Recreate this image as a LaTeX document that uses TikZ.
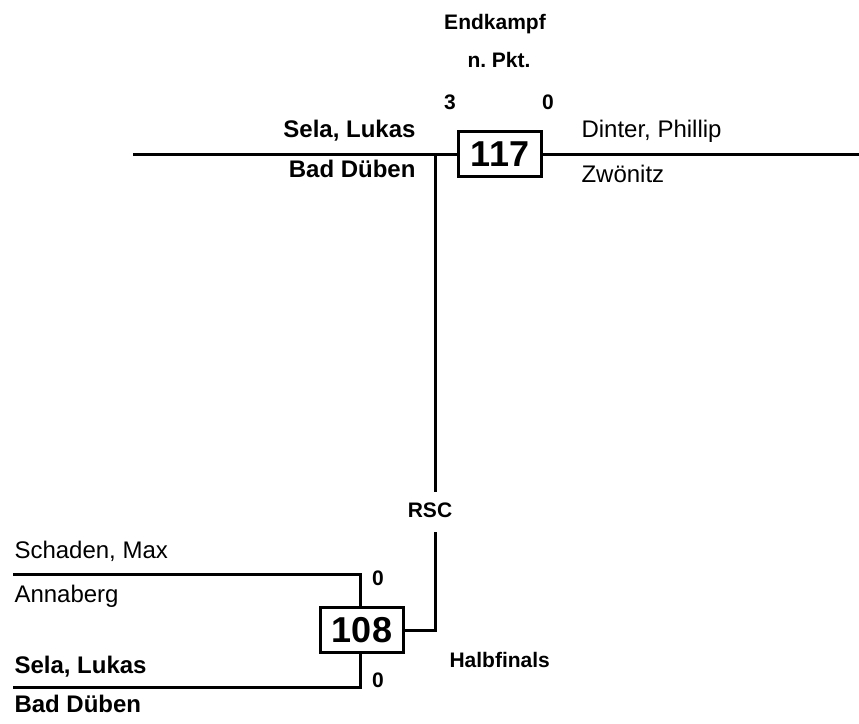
\documentclass[tikz,border=0pt]{standalone}
\usepackage{fontspec}
\setmainfont{Liberation Sans}
\usetikzlibrary{
    arrows.meta,
    shapes,
    positioning,
    calc
}

\begin{document}
\begin{tikzpicture}[x=1pt, y=-1pt, line width=3pt,
                player-text/.style={inner sep=0pt, font=\fontsize{24}{28}\selectfont},
                winner-text/.style={inner sep=0pt, font=\fontsize{24}{28}\selectfont\bfseries},
                info-text/.style={inner sep=0pt, font=\fontsize{21}{25}\selectfont\bfseries},
                match-node/.style={rectangle, draw=black, line width=3pt, inner sep=0pt, minimum width=83pt, minimum height=45pt, font=\fontsize{36}{40}\selectfont\bfseries}]
                \useasboundingbox (0,0) rectangle (859,723);
                % Endkampf
                \node[info-text, anchor=base] (final) at (495,29) {Endkampf};
                \node[info-text, anchor=base] (mode) at (499,67) {n.\ Pkt.};
                \node[info-text, anchor=base] (scoreA) at (450,109) {3};
                \node[info-text, anchor=base] (scoreB) at (548,109) {0};
                \node[match-node] (m117) at (500,154) {117};
                \node[winner-text, anchor=base east] (selaA) at (417,137) {Sela, Lukas};
                \node[winner-text, anchor=base east] (dubenA) at (417,177) {Bad Düben};
                \node[player-text, anchor=base west] (dinter) at (580,137) {Dinter, Phillip};
                \node[player-text, anchor=base west] (zwonitz) at (580,182) {Zwönitz};
                \coordinate (finL) at (133,154);
                \coordinate (finR) at (859,154);
                \coordinate (finJ) at (435,154);
                \draw (finL) -- (m117);
                \draw (m117) -- (finR);
                % Halbfinals
                \node[info-text, anchor=base] (rsc) at (430,517) {RSC};
                \node[info-text, anchor=base west] (semi) at (448,667) {Halbfinals};
                \node[match-node] (m108) at (362,630) {108};
                \node[info-text, anchor=base] (scoreC) at (378,585) {0};
                \node[info-text, anchor=base] (scoreD) at (378,687) {0};
                \node[player-text, anchor=base west] (schaden) at (13,558) {Schaden, Max};
                \node[player-text, anchor=base west] (annaberg) at (13,602) {Annaberg};
                \node[winner-text, anchor=base west] (selaB) at (13,673) {Sela, Lukas};
                \node[winner-text, anchor=base west] (dubenB) at (13,712) {Bad Düben};
                \coordinate (topL) at (13,574);
                \coordinate (topK) at (360,574);
                \coordinate (botL) at (13,687);
                \coordinate (botK) at (360,687);
                \draw (topL) -- (topK) -- (topK |- m108.north);
                \draw (botL) -- (botK) -- (botK |- m108.south);
                \draw (m108.east) -| ($(rsc.south -| finJ)+(0,13)$);
                \draw (finJ) -- ($(rsc.north -| finJ)+(0,-9)$);
            \end{tikzpicture}
\end{document}
